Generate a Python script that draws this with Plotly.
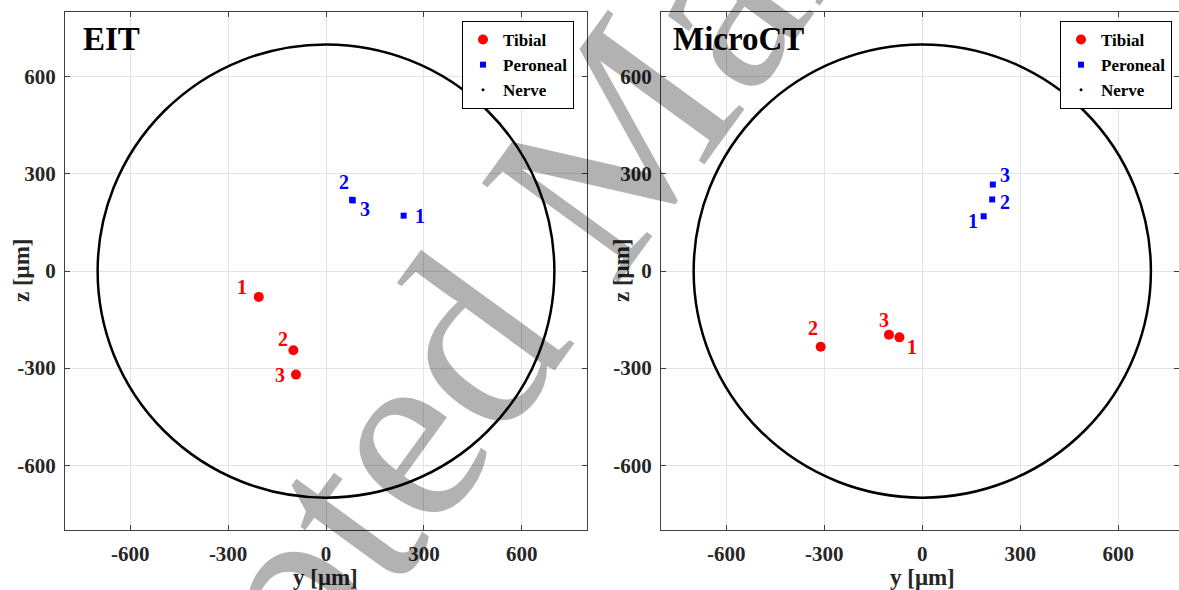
import plotly.graph_objects as go

# ---------------- data ----------------
TICK_VALS = [-600, -300, 0, 300, 600]
TICK_TEXT = ["-600", "-300", "0", "300", "600"]
NERVE_RADIUS = 700
POINT_LABELS = ["1", "2", "3"]

EIT_TIBIAL_Y = [-206, -100, -92]
EIT_TIBIAL_Z = [-80, -245, -320]
EIT_PERONEAL_Y = [238, 80, 82]
EIT_PERONEAL_Z = [171, 220, 218]

CT_TIBIAL_Y = [-70, -311, -102]
CT_TIBIAL_Z = [-205, -234, -197]
CT_PERONEAL_Y = [188, 214, 216]
CT_PERONEAL_Z = [169, 221, 267]

PANEL_TITLES = ["EIT", "MicroCT"]
SERIES_NAMES = ["Tibial", "Peroneal", "Nerve"]
X_TITLE = "y [μm]"
Y_TITLE = "z [μm]"
WATERMARK = "Accepted Manuscript"

# ---------------- styles ----------------
W, H = 1179, 590
SERIF = "Liberation Serif, Times New Roman, serif"
AXIS_COL = "#404040"
GRID_COL = "#e3e3e3"
RED = "#ff0000"
BLUE = "#0000ff"

# label pixel offsets (dx, dy) for each point's number
EIT_TIB_SHIFT = [(-17, 10), (-10, 11), (-16, 0)]
EIT_PER_SHIFT = [(16, 0), (-8, 18), (12, -9)]
CT_TIB_SHIFT = [(13, -10), (-8, 19), (-5, 15)]
CT_PER_SHIFT = [(-11, -5), (13, -3), (12, 10)]

fig = go.Figure()

panels = [
    dict(xa="x", ya="y", legend="legend",
         tib=(EIT_TIBIAL_Y, EIT_TIBIAL_Z, EIT_TIB_SHIFT),
         per=(EIT_PERONEAL_Y, EIT_PERONEAL_Z, EIT_PER_SHIFT)),
    dict(xa="x2", ya="y2", legend="legend2",
         tib=(CT_TIBIAL_Y, CT_TIBIAL_Z, CT_TIB_SHIFT),
         per=(CT_PERONEAL_Y, CT_PERONEAL_Z, CT_PER_SHIFT)),
]

annotations = []
shapes = []
for p in panels:
    ty, tz, tsh = p["tib"]
    py_, pz, psh = p["per"]
    fig.add_trace(go.Scatter(x=ty, y=tz, mode="markers", name=SERIES_NAMES[0],
                             marker=dict(symbol="circle", size=10, color=RED),
                             xaxis=p["xa"], yaxis=p["ya"], legend=p["legend"]))
    fig.add_trace(go.Scatter(x=py_, y=pz, mode="markers", name=SERIES_NAMES[1],
                             marker=dict(symbol="square", size=6, color=BLUE),
                             xaxis=p["xa"], yaxis=p["ya"], legend=p["legend"]))
    fig.add_trace(go.Scatter(x=[None], y=[None], mode="markers", name=SERIES_NAMES[2],
                             marker=dict(symbol="circle", size=3, color="black"),
                             xaxis=p["xa"], yaxis=p["ya"], legend=p["legend"]))
    shapes.append(dict(type="circle", xref=p["xa"], yref=p["ya"],
                       x0=-NERVE_RADIUS, x1=NERVE_RADIUS,
                       y0=-NERVE_RADIUS, y1=NERVE_RADIUS,
                       line=dict(color="black", width=2.5), layer="above"))
    for xs, ys, sh, col in [(ty, tz, tsh, RED), (py_, pz, psh, BLUE)]:
        for xv, yv, lab, (dx, dy) in zip(xs, ys, POINT_LABELS, sh):
            annotations.append(dict(x=xv, y=yv, xref=p["xa"], yref=p["ya"], text=lab,
                                    showarrow=False, xshift=dx, yshift=dy,
                                    font=dict(family=SERIF, size=20, color=col,
                                              weight="bold")))

# panel titles
for txt, px in zip(PANEL_TITLES, [81, 671]):
    annotations.append(dict(x=px / W, y=1 - 39 / H, xref="paper", yref="paper",
                            text=txt, showarrow=False, xanchor="left", yanchor="middle",
                            font=dict(family=SERIF, size=33, color="black", weight="bold")))

# axis titles
for cx in [326, 923]:
    annotations.append(dict(x=cx / W, y=1 - 577 / H, xref="paper", yref="paper",
                            text=X_TITLE, showarrow=False, xanchor="center", yanchor="middle",
                            font=dict(family=SERIF, size=23, color="#262626", weight="bold")))
for cx in [21, 621]:
    annotations.append(dict(x=cx / W, y=1 - 271 / H, xref="paper", yref="paper",
                            text=Y_TITLE, showarrow=False, xanchor="center", yanchor="middle",
                            textangle=-90,
                            font=dict(family=SERIF, size=23, color="#262626", weight="bold")))

# watermark (semi-transparent black ~ multiply grey)
annotations.append(dict(x=584 / W, y=1 - 182 / H, xref="paper", yref="paper",
                        text=WATERMARK, showarrow=False, xanchor="center", yanchor="middle",
                        textangle=-54,
                        font=dict(family=SERIF, size=258, color="rgba(0,0,0,0.3)")))

ydom = [1 - 530 / H, 1 - 12 / H]
axis_common = dict(
    tickvals=TICK_VALS, ticktext=TICK_TEXT,
    showgrid=True, gridcolor=GRID_COL, gridwidth=1,
    zeroline=False, showline=True, linecolor=AXIS_COL, linewidth=1,
    mirror="ticks", ticks="inside", ticklen=5, tickcolor=AXIS_COL,
    tickfont=dict(family=SERIF, size=21, color="#262626", weight="bold"),
)

legend_style = dict(yanchor="top", xanchor="left", y=1 - 21 / H,
                    bgcolor="white", bordercolor="black", borderwidth=1,
                    font=dict(family=SERIF, size=17, color="black", weight="bold"),
                    tracegroupgap=0, itemsizing="trace")

fig.update_layout(
    width=W, height=H,
    margin=dict(l=0, r=0, t=0, b=0),
    paper_bgcolor="white", plot_bgcolor="white",
    showlegend=True,
    xaxis=dict(domain=[65 / W, 587 / W], range=[-800, 800], anchor="y",
               ticklabelstandoff=5, **axis_common),
    yaxis=dict(domain=ydom, range=[-800, 800], anchor="x",
               ticklabelstandoff=4, **axis_common),
    xaxis2=dict(domain=[661 / W, 1.0], range=[-800, 786], anchor="y2",
                ticklabelstandoff=5, **axis_common),
    yaxis2=dict(domain=ydom, range=[-800, 800], anchor="x2",
                ticklabelstandoff=4, **axis_common),
    legend=dict(x=462 / W, **legend_style),
    legend2=dict(x=1060 / W, **legend_style),
    shapes=shapes,
    annotations=annotations,
)

fig.write_html(
    "out.html",
    config={"displayModeBar": False},
    post_script="document.body.style.margin='0px';document.body.style.padding='0px';"
                "document.body.style.overflow='hidden';",
)
